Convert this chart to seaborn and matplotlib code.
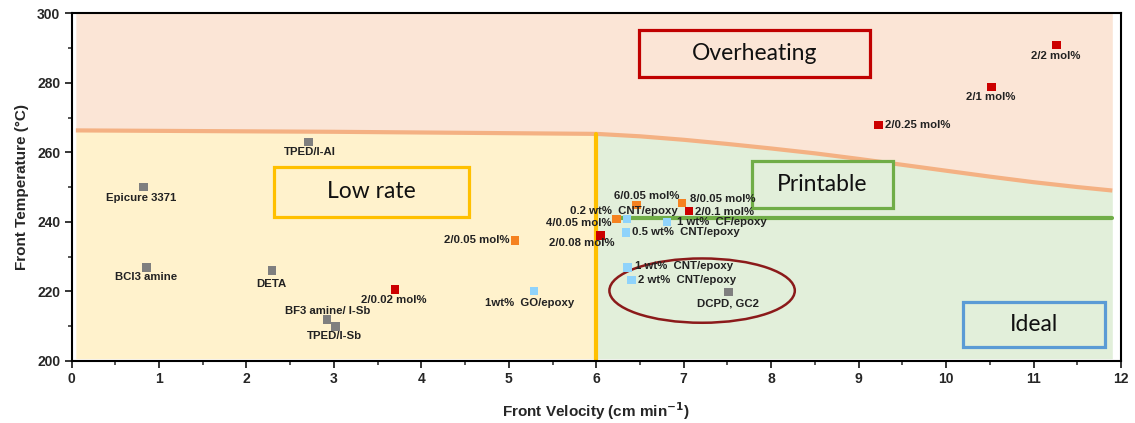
import numpy as np
import pandas as pd
import matplotlib
matplotlib.use("Agg")
import matplotlib.pyplot as plt
from matplotlib.patches import Rectangle, Ellipse
from matplotlib.ticker import MultipleLocator
import seaborn as sns

# ---------------- data ----------------
grey_labels = ["TPED/I-Al", "Epicure 3371", "BCl3 amine", "DETA", "BF3 amine/ I-Sb", "TPED/I-Sb", "DCPD, GC2"]
grey_x = [2.71, 0.82, 0.86, 2.29, 2.92, 3.02, 7.51]
grey_y = [262.9, 250.0, 226.9, 226.0, 211.9, 209.9, 219.8]

red_labels = ["2/0.02 mol%", "2/0.08 mol%", "2/0.1 mol%", "2/0.25 mol%", "2/1 mol%", "2/2 mol%"]
red_x = [3.70, 6.05, 7.06, 9.23, 10.52, 11.26]
red_y = [220.6, 236.1, 243.1, 267.8, 278.8, 290.9]

orange_labels = ["2/0.05 mol%", "4/0.05 mol%", "6/0.05 mol%", "8/0.05 mol%"]
orange_x = [5.07, 6.23, 6.46, 6.98]
orange_y = [234.7, 240.8, 244.8, 245.4]

blue_labels = ["1wt%  GO/epoxy", "0.2 wt%  CNT/epoxy", "1 wt%  CF/epoxy", "0.5 wt%  CNT/epoxy",
               "1 wt%  CNT/epoxy", "2 wt%  CNT/epoxy"]
blue_x = [5.29, 6.35, 6.81, 6.34, 6.36, 6.40]
blue_y = [220.1, 240.8, 239.9, 237.0, 226.9, 223.2]

# region boundaries
boundary_x = [0.05, 3.0, 6.0, 6.5, 7.0, 7.5, 8.0, 8.5, 9.0, 9.5, 10.0, 10.5, 11.0, 11.5, 11.9]
boundary_y = [266.3, 265.9, 265.3, 264.6, 263.6, 262.4, 261.1, 259.7, 258.1, 256.4, 254.7, 253.0, 251.4, 250.0, 249.0]
rate_limit_x = 6.0
printable_limit_y = 241.2

x_ticks = list(range(0, 13))
y_ticks = [200, 220, 240, 260, 280, 300]

# ---------------- styling / layout ----------------
sns.set_theme(style="ticks")
plt.rcParams['font.family'] = ['Liberation Sans', 'DejaVu Sans']

colors = {"grey": "#7f7f7f", "red": "#cc0000", "orange": "#f58220", "blue": "#8fd3fb"}

# label offsets (pixels) and alignment
label_layout = {
    "TPED/I-Al": (1, -10, "center"),
    "Epicure 3371": (-2, -11, "center"),
    "BCl3 amine": (-1, -10, "center"),
    "DETA": (0, -14, "center"),
    "BF3 amine/ I-Sb": (1, 8, "center"),
    "TPED/I-Sb": (-1, -10, "center"),
    "DCPD, GC2": (0, -11, "center"),
    "2/0.02 mol%": (-1, -11, "center"),
    "2/0.08 mol%": (-19, -8, "center"),
    "2/0.1 mol%": (6, -1, "left"),
    "2/0.25 mol%": (6, 0, "left"),
    "2/1 mol%": (-1, -10, "center"),
    "2/2 mol%": (-1, -11, "center"),
    "2/0.05 mol%": (-5, 0, "right"),
    "4/0.05 mol%": (-5, -4, "right"),
    "6/0.05 mol%": (10, 9, "center"),
    "8/0.05 mol%": (8, 4, "left"),
    "1wt%  GO/epoxy": (-5, -12, "center"),
    "0.2 wt%  CNT/epoxy": (-3, 8, "center"),
    "1 wt%  CF/epoxy": (10, 0, "left"),
    "0.5 wt%  CNT/epoxy": (6, 0, "left"),
    "1 wt%  CNT/epoxy": (7, 1, "left"),
    "2 wt%  CNT/epoxy": (7, 0, "left"),
}

df = pd.DataFrame({
    "x": grey_x + red_x + orange_x + blue_x,
    "y": grey_y + red_y + orange_y + blue_y,
    "label": grey_labels + red_labels + orange_labels + blue_labels,
    "group": ["grey"] * len(grey_x) + ["red"] * len(red_x) + ["orange"] * len(orange_x) + ["blue"] * len(blue_x),
})

fig = plt.figure(figsize=(11.35, 4.23), dpi=100)
ax = fig.add_axes([0.063, 0.147, 0.9247, 0.8216])
ax.set_xlim(0, 12)
ax.set_ylim(200, 300)

bx = np.array(boundary_x)
by = np.array(boundary_y)
bottom = 200.6
ax.fill_between(bx, by, 300, color="#fbe5d6", lw=0, zorder=0)
left_mask = bx <= rate_limit_x
ax.fill_between(bx[left_mask], bottom, by[left_mask], color="#fff2cc", lw=0, zorder=0)
right_mask = bx >= rate_limit_x
ax.fill_between(bx[right_mask], bottom, by[right_mask], color="#e2efda", lw=0, zorder=0)
ax.plot(bx, by, color="#f4b183", lw=3, solid_capstyle="butt", solid_joinstyle="round", zorder=1)
ax.plot([rate_limit_x, rate_limit_x], [bottom - 0.6, np.interp(rate_limit_x, bx, by)], color="#ffc000", lw=3, zorder=1)
ax.plot([6.2, 11.9], [printable_limit_y, printable_limit_y], color="#70ad47", lw=3, zorder=1)

# region boxes
boxes = [
    ("Overheating", 6.49, 281.7, 9.13, 295.2, "#c00000", "#fbe5d6"),
    ("Low rate", 2.31, 241.4, 4.55, 255.8, "#ffc000", "#fff2cc"),
    ("Printable", 7.78, 244.0, 9.39, 257.5, "#70ad47", "#e2efda"),
    ("Ideal", 10.19, 204.0, 11.82, 216.9, "#5b9bd5", "#e2efda"),
]
for txt, x0, y0, x1, y1, ec, fc in boxes:
    ax.add_patch(Rectangle((x0, y0), x1 - x0, y1 - y0, facecolor=fc, edgecolor=ec, lw=2.3, zorder=2))
    ax.text((x0 + x1) / 2, (y0 + y1) / 2, txt, ha="center", va="center", fontsize=16.5,
            family=["Lato", "DejaVu Sans"], color="#111111", zorder=3)

ax.add_patch(Ellipse((7.21, 220.2), 2.12, 18.5, facecolor="none", edgecolor="#8b1a1a", lw=1.8, zorder=2))

sns.scatterplot(data=df, x="x", y="y", hue="group", palette=colors, marker="s", s=38,
                edgecolor="none", legend=False, ax=ax, zorder=4)

for _, r in df.iterrows():
    dx, dy, ha = label_layout[r["label"]]
    ax.annotate(r["label"], (r["x"], r["y"]), xytext=(dx, dy), textcoords="offset pixels",
                ha=ha, va="center", fontsize=8.2, fontweight="bold", color="#222222", zorder=5)

ax.set_xticks(x_ticks)
ax.set_yticks(y_ticks)
ax.xaxis.set_minor_locator(MultipleLocator(0.5))
ax.yaxis.set_minor_locator(MultipleLocator(10))
ax.tick_params(axis="both", which="major", direction="out", length=5, width=1.3, labelsize=10, pad=3)
ax.tick_params(axis="both", which="minor", direction="out", length=3, width=1.1)
for lab in ax.get_xticklabels() + ax.get_yticklabels():
    lab.set_fontweight("bold")
for sp in ax.spines.values():
    sp.set_color("black")
    sp.set_linewidth(1.5)

ax.set_xlabel("Front Velocity (cm min$^{\\mathbf{-1}}$)", fontsize=11, fontweight="bold", labelpad=10)
ax.set_ylabel("Front Temperature (°C)", fontsize=11, fontweight="bold", labelpad=6)

fig.savefig("out.png", dpi=100)
